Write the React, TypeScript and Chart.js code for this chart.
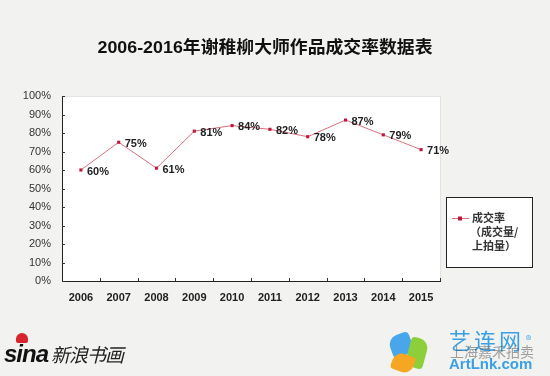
import React, { useEffect, useRef } from "react";
import { Chart, registerables } from "chart.js";

Chart.register(...registerables);

const TITLE = "2006-2016年谢稚柳大师作品成交率数据表";
const YEARS = ["2006", "2007", "2008", "2009", "2010", "2011", "2012", "2013", "2014", "2015"];
const RATES = [60, 75, 61, 81, 84, 82, 78, 87, 79, 71];
const SERIES_NAME = "成交率";
const LEGEND_LINES = ["成交率", "（成交量/", "上拍量）"];
const Y_TICKS = [0, 10, 20, 30, 40, 50, 60, 70, 80, 90, 100];

const LINE_COLOR = "#d8707f";
const POINT_COLOR = "#c0163c";

const bgPlugin = {
  id: "bgPlugin",
  beforeDraw(chart: any) {
    const { ctx, chartArea: a } = chart;
    ctx.save();
    ctx.fillStyle = "#f2f2f0";
    ctx.fillRect(0, 0, chart.width, chart.height);
    ctx.fillStyle = "#ffffff";
    ctx.fillRect(a.left, a.top, a.right - a.left, a.bottom - a.top);
    ctx.strokeStyle = "#e2e2e2";
    ctx.lineWidth = 1;
    ctx.strokeRect(a.left + 0.5, a.top + 0.5, a.right - a.left, a.bottom - a.top);
    // title
    ctx.fillStyle = "#111";
    ctx.font = "bold 17px 'Liberation Sans', 'Noto Sans CJK SC', sans-serif";
    ctx.textAlign = "center";
    ctx.textBaseline = "middle";
    const w = ctx.measureText(TITLE).width;
    const target = 335;
    ctx.translate(265, 48);
    ctx.scale(target / w, 1);
    ctx.fillText(TITLE, 0, 0);
    ctx.restore();
  },
  afterDatasetsDraw(chart: any) {
    const { ctx, chartArea: a } = chart;
    ctx.save();
    // inward tick marks
    ctx.strokeStyle = "#333";
    ctx.lineWidth = 1;
    const ys = chart.scales.y;
    ctx.beginPath();
    Y_TICKS.forEach((v) => {
      const py = Math.round(ys.getPixelForValue(v)) + 0.5;
      ctx.moveTo(a.left, py);
      ctx.lineTo(a.left + 3, py);
    });
    const n = YEARS.length;
    const cw = (a.right - a.left) / n;
    for (let i = 1; i <= n; i++) {
      const px = Math.round(a.left + i * cw) + 0.5;
      ctx.moveTo(px, a.bottom);
      ctx.lineTo(px, a.bottom - 3);
    }
    ctx.stroke();

    const meta = chart.getDatasetMeta(0);
    ctx.fillStyle = "#222";
    ctx.font = "bold 11px 'Liberation Sans', Arial, sans-serif";
    ctx.textAlign = "left";
    ctx.textBaseline = "middle";
    meta.data.forEach((p: any, i: number) => {
      ctx.fillText(RATES[i] + "%", p.x + 6, p.y + 1.5);
    });
    // legend box
    ctx.fillStyle = "#ffffff";
    ctx.fillRect(446, 197, 86, 70);
    ctx.strokeStyle = "#222";
    ctx.lineWidth = 1;
    ctx.strokeRect(446.5, 197.5, 86, 70);
    ctx.strokeStyle = LINE_COLOR;
    ctx.beginPath();
    ctx.moveTo(452, 218.5);
    ctx.lineTo(469, 218.5);
    ctx.stroke();
    ctx.fillStyle = POINT_COLOR;
    ctx.fillRect(458, 216.5, 4, 4);
    ctx.fillStyle = "#333";
    ctx.font = "bold 11px 'Noto Sans CJK SC', sans-serif";
    ctx.fillText(LEGEND_LINES[0], 472, 218);
    ctx.fillText(LEGEND_LINES[1], 470, 232);
    ctx.fillText(LEGEND_LINES[2], 472, 246);
    ctx.restore();
  },
};

function Watermarks() {
  return (
    <>
      <div style={{ position: "absolute", left: 4, top: 340, fontFamily: "'Liberation Sans', sans-serif", fontStyle: "italic", fontWeight: 900, fontSize: 24, color: "#111", letterSpacing: -1 }}>
        sina
        <span style={{ fontFamily: "'Noto Sans CJK SC'", fontWeight: 400, fontSize: 19, marginLeft: 3, color: "#222" }}>新浪书画</span>
      </div>
      <div style={{ position: "absolute", left: 16, top: 333, width: 12, height: 10, borderRadius: "6px 6px 2px 2px", background: "#d8242c" }} />
      <div style={{ position: "absolute", left: 390, top: 334, width: 22, height: 22, borderRadius: "10px 4px 10px 4px", background: "#4aa6ea", transform: "rotate(-20deg)" }} />
      <div style={{ position: "absolute", left: 408, top: 338, width: 18, height: 30, borderRadius: "4px 10px 4px 10px", background: "#8ccf3a", transform: "rotate(15deg)" }} />
      <div style={{ position: "absolute", left: 392, top: 354, width: 22, height: 18, borderRadius: "10px 4px 10px 4px", background: "#f5a623", transform: "rotate(20deg)" }} />
      <div style={{ position: "absolute", left: 449, top: 326, fontFamily: "'Noto Sans CJK SC'", fontSize: 22, color: "#3ba0e3", letterSpacing: 3, lineHeight: "26px" }}>
        艺连网<span style={{ fontSize: 11, verticalAlign: "top", marginLeft: 2 }}>®</span>
      </div>
      <div style={{ position: "absolute", left: 450, top: 342, fontFamily: "'Noto Sans CJK SC'", fontSize: 14, color: "rgba(90,90,90,0.55)", lineHeight: "18px" }}>上海嘉禾拍卖</div>
      <div style={{ position: "absolute", left: 449, top: 355, fontFamily: "'Liberation Sans', sans-serif", fontWeight: 700, fontSize: 15, color: "#3ba0e3", lineHeight: "18px" }}>ArtLnk.com</div>
    </>
  );
}

export default function App() {
  const ref = useRef<HTMLCanvasElement | null>(null);
  useEffect(() => {
    document.body.style.margin = "0";
    const chart = new Chart(ref.current as HTMLCanvasElement, {
      type: "line",
      data: {
        labels: YEARS,
        datasets: [
          {
            label: SERIES_NAME,
            data: RATES,
            borderColor: LINE_COLOR,
            borderWidth: 1,
            pointStyle: "rect",
            pointRadius: 2.2,
            pointBackgroundColor: POINT_COLOR,
            pointBorderColor: POINT_COLOR,
            pointBorderWidth: 0,
            tension: 0,
          },
        ],
      },
      options: {
        animation: false,
        responsive: false,
        devicePixelRatio: 1,
        layout: { padding: { top: 96, right: 110, left: 0, bottom: 0 } },
        plugins: { legend: { display: false }, title: { display: false }, tooltip: { enabled: false } },
        scales: {
          x: {
            offset: true,
            grid: { display: false },
            border: { color: "#222", width: 1 },
            ticks: { color: "#222", padding: 2, font: { family: "'Liberation Sans', Arial", size: 11, weight: "bold" } },
            afterFit(s: any) {
              s.height = 95;
            },
          },
          y: {
            min: 0,
            max: 100,
            afterBuildTicks(s: any) {
              s.ticks = Y_TICKS.map((v) => ({ value: v }));
            },
            grid: { display: false },
            border: { color: "#222", width: 1 },
            ticks: {
              color: "#333",
              padding: 3,
              font: { family: "'Liberation Sans', Arial", size: 11 },
              callback: (v: any) => v + "%",
            },
            afterFit(s: any) {
              s.width = 62;
            },
          },
        },
      },
      plugins: [bgPlugin],
    });
    return () => chart.destroy();
  }, []);
  return (
    <div style={{ position: "relative", width: 550, height: 376, overflow: "hidden" }}>
      <canvas ref={ref} width={550} height={376} style={{ display: "block" }} />
      <Watermarks />
    </div>
  );
}
